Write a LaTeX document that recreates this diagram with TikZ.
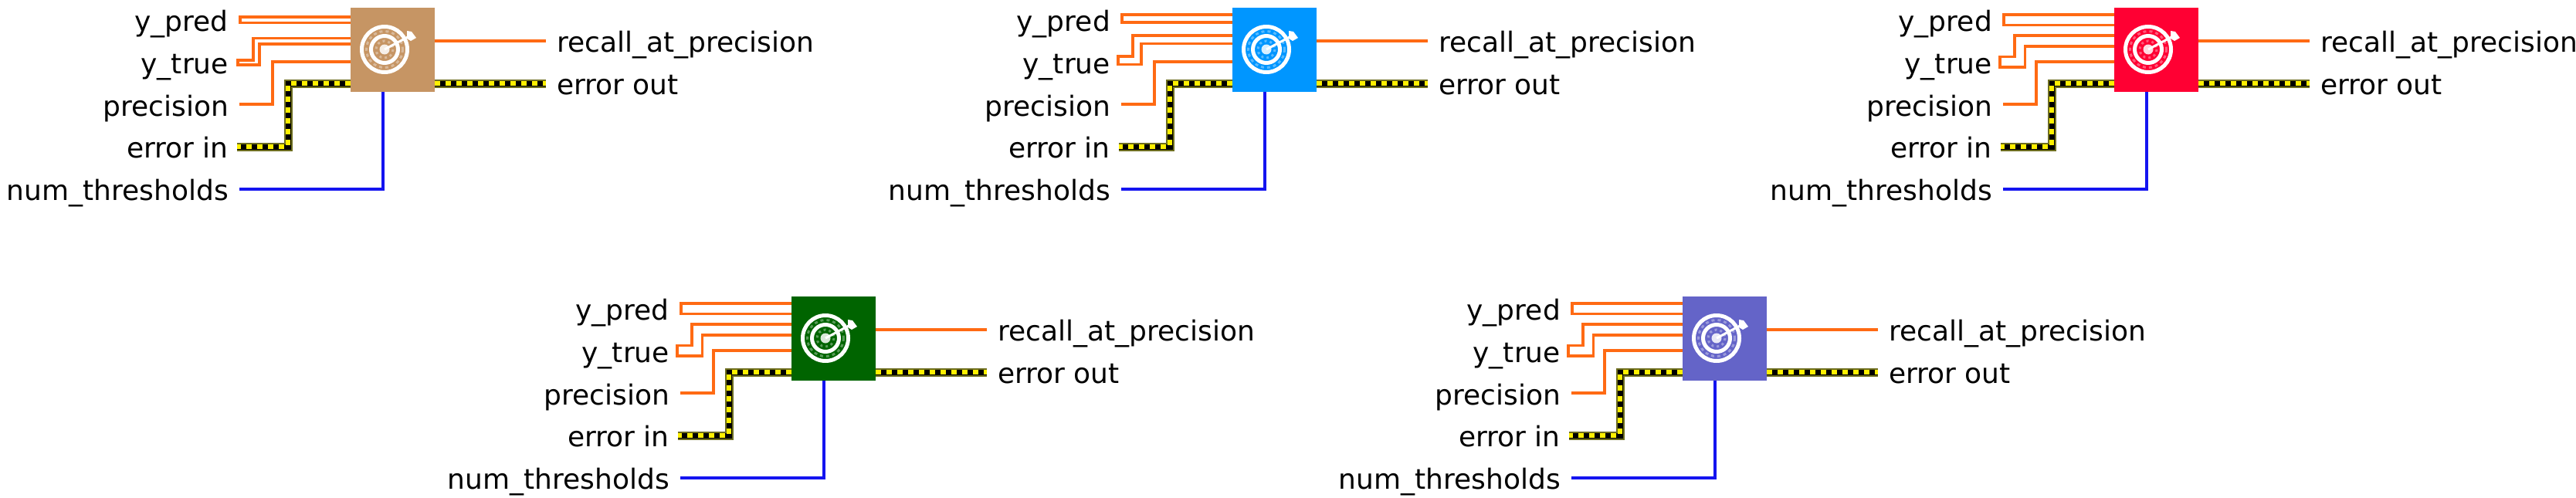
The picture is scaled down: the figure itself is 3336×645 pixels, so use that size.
\documentclass[tikz,border=0pt]{standalone}
\usepackage{fontspec}
\setmainfont{DejaVu Sans}
\definecolor{wireor}{HTML}{FF6A13}
\definecolor{wirebl}{HTML}{1414F0}
\definecolor{wireol}{HTML}{6E6E20}
\definecolor{wireye}{HTML}{FFF000}
\definecolor{vitan}{HTML}{C69564}
\definecolor{viblue}{HTML}{0096FF}
\definecolor{vired}{HTML}{FF0033}
\definecolor{vigreen}{HTML}{006400}
\definecolor{viviolet}{HTML}{6464C8}
\tikzset{
  x=1pt,y=-1pt,
  orw/.style={draw=wireor,line width=3.6pt,line join=miter},
  blw/.style={draw=wirebl,line width=3.6pt},
  lbl/.style={inner sep=0pt,font=\fontsize{36}{36}\selectfont,text=black,anchor=base east},
  lbr/.style={inner sep=0pt,font=\fontsize{36}{36}\selectfont,text=black,anchor=base west},
  vi/.style={inner sep=0pt,minimum size=109pt,anchor=north west,draw=none,rectangle},
}
% error cluster wire
\newcommand{\errwire}[1]{%
  \draw[wireol,line width=11pt,line join=miter] #1;
  \draw[black,line width=7pt,line join=miter] #1;
  \draw[wireye,line width=5.5pt,dash pattern=on 7pt off 7pt,line join=miter] #1;
}
% \wires{a}{b}{c}{d}{x1}{x2}{ly1}{ly2}{xl}
\newcommand{\wires}[9]{\def\wpa{#1}\def\wpb{#2}\def\wpc{#3}\def\wpd{#4}\def\wxa{#5}\def\wxb{#6}\def\wya{#7}\def\wyb{#8}\def\wxl{#9}}
% \block{prefix}{dx}{dy}{colour}
\newcommand{\block}[4]{%
\begin{scope}[shift={(#2,#3)}]
  \node[vi,fill=#4] (#1box) at (454,10) {};
  \node[lbl] (#1a) at (296,40) {y\_pred};
  \node[lbl] (#1b) at (296,95) {y\_true};
  \node[lbl] (#1c) at (296,150) {precision};
  \node[lbl] (#1d) at (296,204) {error in};
  \node[lbl] (#1e) at (296,259) {num\_thresholds};
  \node[lbr] (#1f) at (721,67) {recall\_at\_precision};
  \node[lbr] (#1g) at (721,122) {error out};
  \coordinate (#1a1) at (454,\wpa); \coordinate (#1a2) at (454,\wpb);
  \coordinate (#1b1) at (454,\wpc); \coordinate (#1b2) at (454,\wpd);
  \coordinate (#1c1) at (454,80);
  \coordinate (#1d1) at (454,108);
  \coordinate (#1o1) at (563,52.7);
  \coordinate (#1o2) at (563,108);
  \coordinate (#1e1) at (496,119);
  \coordinate (#1lc) at (310,135);
  \coordinate (#1ld) at (307,190);
  \coordinate (#1le) at (310,245);
  \coordinate (#1rf) at (707,52.7);
  \coordinate (#1rg) at (707,108);
  \draw[orw] (#1a1) -- (311,\wpa) -- (311,\wpb) -- (#1a2);
  \draw[orw] (#1b1) -- (\wxa,\wpc) -- (\wxa,\wya) -- (\wxl,\wya) -- (\wxl,\wyb) -- (\wxb,\wyb) -- (\wxb,\wpd) -- (#1b2);
  \draw[orw] (#1c1) -- (353,80) -- (353,135) -- (#1lc);
  \errwire{(#1d1) -- (373,108) -- (373,190) -- (#1ld)}
  \draw[blw] (#1e1) -- (496,245) -- (#1le);
  \draw[orw] (#1o1) -- (#1rf);
  \errwire{(#1o2) -- (#1rg)}
  % target icon
  \begin{scope}[shift={(498,64)}]
    \draw[white,line width=5pt] (0,0) circle (29.5);
    \draw[white,line width=5pt] (0,0) circle (17.5);
    \fill[white!85!#4] (0,0) circle (6.5);
    \draw[white,opacity=.35,line width=3pt,dash pattern=on 4pt off 4pt] (0,0) circle (23.5);
    \draw[white,opacity=.35,line width=3pt,dash pattern=on 3pt off 4pt] (0,0) circle (11);
    \draw[white,line width=3pt] (0,0) -- (30,-16);
    \fill[white] (29,-24) -- (35,-23) -- (41,-15) -- (34,-11) -- (29,-14) -- cycle;
  \end{scope}
\end{scope}}
\begin{document}
\begin{tikzpicture}
\useasboundingbox[fill=white] (0,0) rectangle (3336,645);
\wires{22}{29.3}{49.5}{56.7}{328}{336}{77.7}{84}{308}
\block{p}{0}{0}{vitan}
\wires{19}{29}{46}{56.3}{325}{336}{72.7}{83.3}{306}
\block{q}{1142}{0}{viblue}
\wires{19}{32.3}{46}{60}{325}{338.5}{73.3}{87}{306}
\block{r}{2284}{0}{vired}
\block{s}{571}{374}{vigreen}
\block{t}{1725}{374}{viviolet}
\end{tikzpicture}
\end{document}
